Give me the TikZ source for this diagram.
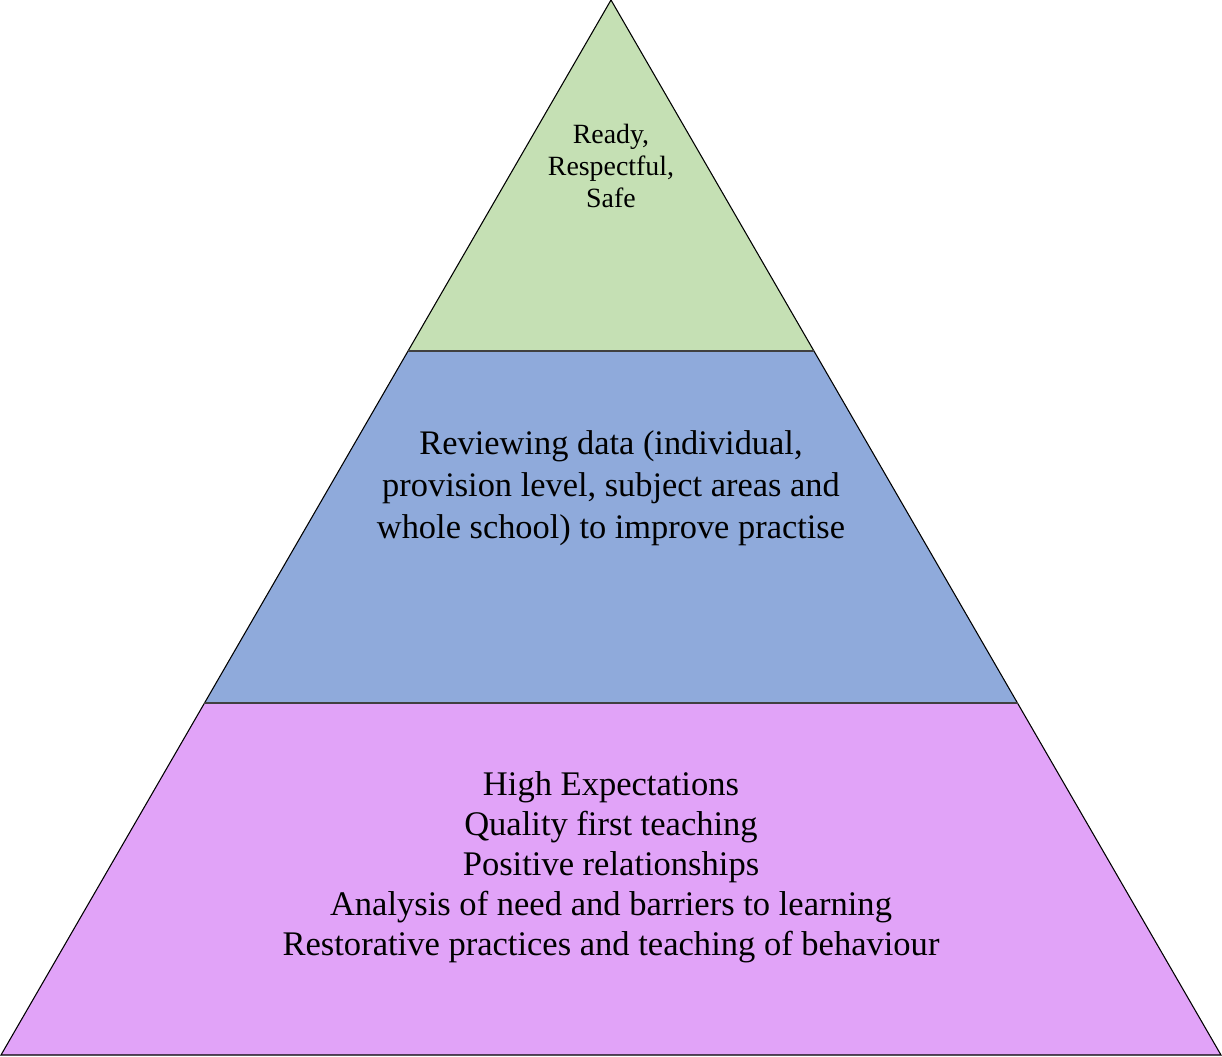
\documentclass[tikz,border=0pt]{standalone}
\usepackage{fontspec}
\setmainfont{Liberation Serif}
\usetikzlibrary{positioning,calc}
\definecolor{tiergreen}{RGB}{197,224,180}
\definecolor{tierblue}{RGB}{143,170,219}
\definecolor{tierpink}{RGB}{225,163,248}
\tikzset{
  outline/.style={draw=black, line width=0.8pt, line join=miter},
  divider/.style={draw=black!75, line width=1.5pt},
  tiertext/.style={align=center, inner sep=0pt},
}
\begin{document}
\begin{tikzpicture}[x=0.75pt,y=-0.75pt]
        \useasboundingbox (0,0) rectangle (1222,1057);
        % Corners
        \coordinate (apex) at (611,0);
        \coordinate (bl) at (1,1055);
        \coordinate (br) at (1221,1055);
        \coordinate (ul) at ($(apex)!0.3327!(bl)$);
        \coordinate (ur) at ($(apex)!0.3327!(br)$);
        \coordinate (ll) at ($(apex)!0.6664!(bl)$);
        \coordinate (lr) at ($(apex)!0.6664!(br)$);
        % Tiers
        \fill[tiergreen] (apex) -- (ul) -- (ur) -- cycle;
        \fill[tierblue] (ul) -- (ll) -- (lr) -- (ur) -- cycle;
        \fill[tierpink] (ll) -- (bl) -- (br) -- (lr) -- cycle;
        \draw[outline] (apex) -- (bl) -- (br) -- cycle;
        \draw[divider] (ul) -- (ur);
        \draw[divider] (ll) -- (lr);
        % Labels in the tiers
        \node[tiertext, font=\fontsize{20.9}{24}\selectfont] (top) at (611,166) {Ready,\\Respectful,\\Safe};
        \node[tiertext, font=\fontsize{25.8}{31.5}\selectfont] (mid) at (611,488) {Reviewing data (individual,\\provision level, subject areas and\\whole school) to improve practise};
        \node[tiertext, font=\fontsize{25.9}{30}\selectfont] (base) at (611,867) {High Expectations\\Quality first teaching\\Positive relationships\\Analysis of need and barriers to learning\\Restorative practices and teaching of behaviour};
\end{tikzpicture}
\end{document}
